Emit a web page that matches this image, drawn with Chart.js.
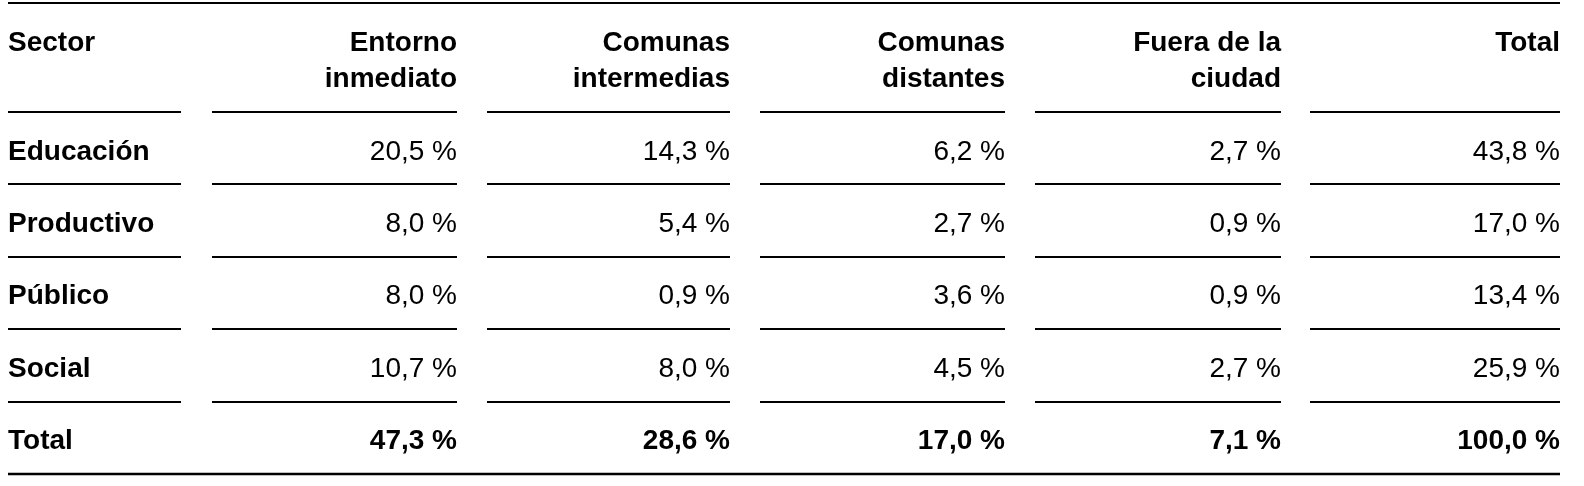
<!DOCTYPE html>
<html><head><meta charset="utf-8">
<script src="https://cdn.jsdelivr.net/npm/chart.js@4/dist/chart.umd.min.js"></script>
<style>html,body{margin:0;padding:0;background:#fff}#wrap{width:1584px;height:486px}</style>
</head><body><div id="wrap"><canvas id="c"></canvas></div>
<script>
const headers = [["Sector"],["Entorno","inmediato"],["Comunas","intermedias"],["Comunas","distantes"],["Fuera de la","ciudad"],["Total"]];
const sectors = ["Educación","Productivo","Público","Social","Total"];
const entorno = [20.5, 8.0, 8.0, 10.7, 47.3];
const intermedias = [14.3, 5.4, 0.9, 8.0, 28.6];
const distantes = [6.2, 2.7, 3.6, 4.5, 17.0];
const fuera = [2.7, 0.9, 0.9, 2.7, 7.1];
const totals = [43.8, 17.0, 13.4, 25.9, 100.0];
const series = [entorno, intermedias, distantes, fuera, totals];
const fmt = v => v.toFixed(1).replace('.', ',') + ' %';

const tablePlugin = {
  id: 'table',
  afterDraw(chart) {
    const ctx = chart.ctx, xs = chart.scales.x, ys = chart.scales.y;
    const X = v => xs.getPixelForValue(v), Y = v => ys.getPixelForValue(v);
    const colL = [8, 212, 487, 760, 1035, 1310];
    const colR = [181, 457, 730, 1005, 1281, 1560];
    const rowY = r => 152 + r * 72.3;
    const font = (b) => (b ? 'bold ' : '') + '28px "Liberation Sans", Arial, sans-serif';
    ctx.save();
    ctx.fillStyle = '#000'; ctx.strokeStyle = '#000';
    ctx.textBaseline = 'middle';
    ctx.lineWidth = 2;
    ctx.beginPath(); ctx.moveTo(X(8), Y(3)); ctx.lineTo(X(1560), Y(3)); ctx.stroke();
    ctx.font = font(true);
    headers.forEach((h, i) => {
      ctx.textAlign = i === 0 ? 'left' : 'right';
      const x = i === 0 ? X(colL[0]) : X(colR[i]);
      h.forEach((t, k) => ctx.fillText(t, x, Y(43 + k * 36)));
    });
    [112, 184, 257, 329, 402].forEach(r => {
      for (let i = 0; i < 6; i++) {
        ctx.beginPath(); ctx.moveTo(X(colL[i]), Y(r)); ctx.lineTo(X(colR[i]), Y(r)); ctx.stroke();
      }
    });
    sectors.forEach((s, r) => {
      const bold = r === sectors.length - 1;
      ctx.font = font(true);
      ctx.textAlign = 'left';
      ctx.fillText(s, X(colL[0]), Y(rowY(r)));
      ctx.font = font(bold);
      ctx.textAlign = 'right';
      series.forEach((arr, c) => ctx.fillText(fmt(arr[r]), X(colR[c + 1]), Y(rowY(r))));
    });
    ctx.lineWidth = 2.5;
    ctx.beginPath(); ctx.moveTo(X(8), Y(474)); ctx.lineTo(X(1560), Y(474)); ctx.stroke();
    ctx.restore();
  }
};

new Chart(document.getElementById('c'), {
  type: 'scatter',
  data: { datasets: [{ data: [] }] },
  options: {
    responsive: true, maintainAspectRatio: false, animation: false,
    layout: { padding: 0 },
    plugins: { legend: { display: false }, tooltip: { enabled: false } },
    scales: {
      x: { type: 'linear', min: 0, max: 1584, display: false },
      y: { type: 'linear', min: 0, max: 486, reverse: true, display: false }
    }
  },
  plugins: [tablePlugin]
});
</script></body></html>
